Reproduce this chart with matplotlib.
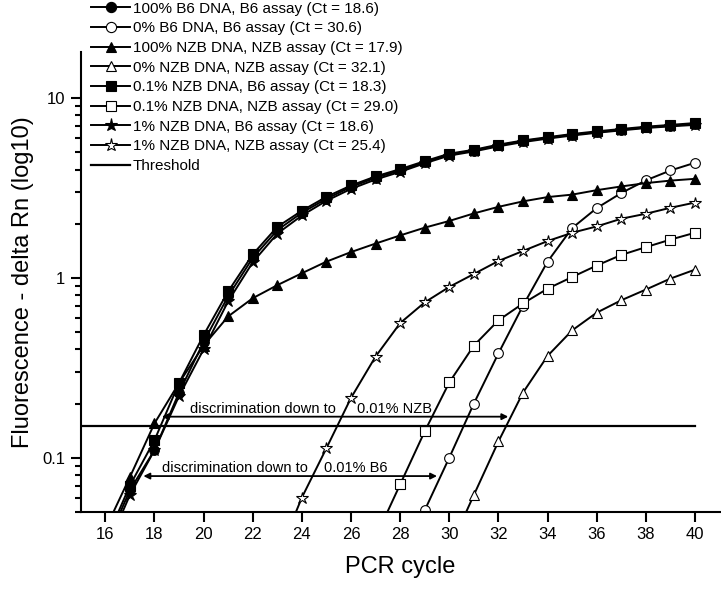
import numpy as np
import matplotlib.pyplot as plt
from matplotlib.ticker import FixedLocator, FixedFormatter, LogLocator, NullFormatter

plt.rcParams['font.family'] = ['Liberation Sans', 'DejaVu Sans']

# PCR cycles for each series (values below the axis start are clipped)
cyc_bundle = np.arange(16, 41)
b6_100 = [0.032, 0.066, 0.11, 0.23, 0.44, 0.79, 1.29, 1.84, 2.30, 2.75, 3.20, 3.60, 3.95, 4.40,
          4.85, 5.10, 5.45, 5.75, 6.00, 6.25, 6.45, 6.65, 6.85, 7.00, 7.15]
nzb01_b6 = [0.034, 0.07, 0.125, 0.26, 0.48, 0.84, 1.35, 1.92, 2.36, 2.82, 3.26, 3.66, 4.02, 4.45,
            4.90, 5.15, 5.50, 5.80, 6.05, 6.30, 6.52, 6.72, 6.92, 7.08, 7.25]
nzb1_b6 = [0.030, 0.062, 0.11, 0.22, 0.40, 0.74, 1.22, 1.76, 2.22, 2.68, 3.12, 3.52, 3.88, 4.33,
           4.78, 5.04, 5.38, 5.68, 5.94, 6.18, 6.40, 6.60, 6.80, 6.95, 7.08]
cyc_nzb100 = np.arange(16, 41)
nzb_100 = [0.04, 0.078, 0.155, 0.26, 0.42, 0.61, 0.77, 0.91, 1.06, 1.23, 1.39, 1.55, 1.72, 1.90,
           2.07, 2.28, 2.48, 2.66, 2.81, 2.90, 3.07, 3.22, 3.36, 3.47, 3.55]
cyc_b6_0 = np.arange(28, 41)
b6_0 = [0.026, 0.051, 0.10, 0.20, 0.38, 0.70, 1.23, 1.89, 2.44, 2.96, 3.48, 3.95, 4.36]
cyc_nzb_0 = np.arange(30, 41)
nzb_0 = [0.031, 0.062, 0.123, 0.23, 0.368, 0.51, 0.64, 0.75, 0.86, 0.99, 1.11]
cyc_nzb01 = np.arange(27, 41)
nzb01_nzb = [0.036, 0.071, 0.14, 0.262, 0.42, 0.58, 0.72, 0.87, 1.01, 1.17, 1.34, 1.48, 1.63, 1.78]
cyc_nzb1 = np.arange(23, 41)
nzb1_nzb = [0.028, 0.06, 0.113, 0.215, 0.365, 0.56, 0.73, 0.89, 1.05, 1.24, 1.41, 1.60, 1.78,
            1.93, 2.13, 2.27, 2.45, 2.62]

threshold = 0.15
labels = ["100% B6 DNA, B6 assay (Ct = 18.6)",
          "0% B6 DNA, B6 assay (Ct = 30.6)",
          "100% NZB DNA, NZB assay (Ct = 17.9)",
          "0% NZB DNA, NZB assay (Ct = 32.1)",
          "0.1% NZB DNA, B6 assay (Ct = 18.3)",
          "0.1% NZB DNA, NZB assay (Ct = 29.0)",
          "1% NZB DNA, B6 assay (Ct = 18.6)",
          "1% NZB DNA, NZB assay (Ct = 25.4)",
          "Threshold"]

fig = plt.figure(figsize=(7.21, 5.91), dpi=100)
ax = fig.add_axes([0.112, 0.134, 0.886, 0.778])

lw = 1.4
mew = 0.8
series = [
    (cyc_bundle, b6_100, 'o', 'k', 7),
    (cyc_b6_0, b6_0, 'o', 'w', 7),
    (cyc_nzb100, nzb_100, '^', 'k', 7.5),
    (cyc_nzb_0, nzb_0, '^', 'w', 7.5),
    (cyc_bundle, nzb01_b6, 's', 'k', 6.5),
    (cyc_nzb01, nzb01_nzb, 's', 'w', 6.5),
    (cyc_bundle, nzb1_b6, '*', 'k', 9),
    (cyc_nzb1, nzb1_nzb, '*', 'w', 9),
]
handles = []
for (x, y, m, fc, ms), lab in zip(series, labels):
    h, = ax.plot(x, y, '-', color='k', lw=lw, marker=m, mfc=fc, mec='k', mew=mew, ms=ms, label=lab)
    handles.append(h)
h, = ax.plot([15, 40], [threshold, threshold], 'k-', lw=1.6, label=labels[-1])
handles.append(h)

# discrimination arrows
arr = dict(arrowstyle='<|-|>', color='k', lw=1.3, mutation_scale=9, shrinkA=0, shrinkB=0)
ax.annotate('', xy=(18.3, 0.169), xytext=(32.4, 0.169), arrowprops=arr)
ax.annotate('', xy=(17.55, 0.079), xytext=(29.5, 0.079), arrowprops=arr)
ax.text(19.45, 0.187, "discrimination down to", fontsize=10.5, va='center')
ax.text(26.25, 0.187, "0.01% NZB", fontsize=10.5, va='center')
ax.text(18.3, 0.088, "discrimination down to", fontsize=10.5, va='center')
ax.text(24.9, 0.088, "0.01% B6", fontsize=10.5, va='center')

ax.set_yscale('log')
ax.set_xlim(15, 41)
ax.set_ylim(0.05, 18)
ax.set_xticks(np.arange(16, 41, 2))
ax.yaxis.set_major_locator(FixedLocator([0.1, 1, 10]))
ax.yaxis.set_major_formatter(FixedFormatter(["0.1", "1", "10"]))
ax.yaxis.set_minor_locator(LogLocator(base=10, subs=np.arange(2, 10)))
ax.yaxis.set_minor_formatter(NullFormatter())
ax.tick_params(which='major', direction='out', length=7, width=1.5, labelsize=12, pad=4)
ax.tick_params(which='minor', direction='out', length=4, width=1.5)
for s in ['top', 'right']:
    ax.spines[s].set_visible(False)
for s in ['left', 'bottom']:
    ax.spines[s].set_linewidth(1.5)

ax.set_xlabel("PCR cycle", fontsize=17, labelpad=10)
ax.set_ylabel("Fluorescence - delta Rn (log10)", fontsize=17, labelpad=6)

fig.legend(handles=handles, loc='upper left', bbox_to_anchor=(0.112, 1.015), frameon=False,
           fontsize=11, handlelength=2.5, handletextpad=0.2, labelspacing=0.37,
           borderpad=0.2, markerscale=1.05)

fig.savefig("out.png", dpi=100)
